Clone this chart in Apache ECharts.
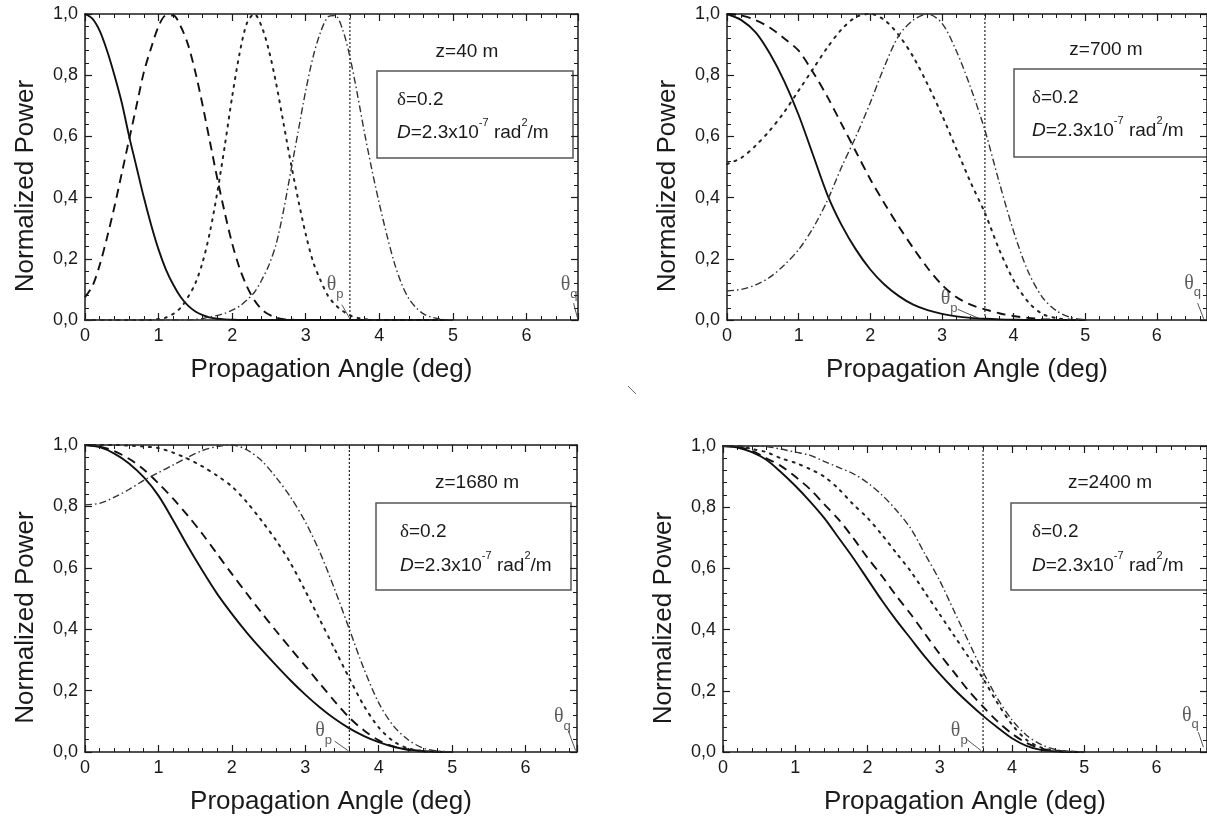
<!DOCTYPE html>
<html><head><meta charset="utf-8">
<script src="https://cdn.jsdelivr.net/npm/echarts@6/dist/echarts.min.js"></script>
<style>html,body{margin:0;padding:0;background:#fff}#c{width:1207px;height:820px}</style>
</head><body><div id="c"></div><script>
// ---------- DATA ----------
const panelTitles = ['z=40 m', 'z=700 m', 'z=1680 m', 'z=2400 m'];
const xTicks = [0, 1, 2, 3, 4, 5, 6];
const yTicks = ['0,0', '0,2', '0,4', '0,6', '0,8', '1,0'];
const thetaP = 3.6;
const thetaQ = 6.7;

// Panel 1 (z=40 m), angle step 0.1 deg
const angles1 = [0,0.1,0.2,0.3,0.4,0.5,0.6,0.7,0.8,0.9,1.0,1.1,1.2,1.3,1.4,1.5,1.6,1.7,1.8,1.9,2.0,2.1,2.2,2.3,2.4,2.5,2.6,2.7,2.8,2.9,3.0,3.1,3.2,3.3,3.4,3.5,3.6,3.7,3.8,3.9,4.0,4.1,4.2,4.3,4.4,4.5,4.6,4.7,4.8,4.9,5.0];
const solid40 = [1.00,0.985,0.945,0.88,0.80,0.71,0.60,0.50,0.40,0.31,0.23,0.165,0.115,0.075,0.047,0.028,0.016,0.008,0.004,0.002,0.001,0,0,0,0,0,0,0,0,0,0,0,0,0,0,0,0,0,0,0,0,0,0,0,0,0,0,0,0,0,0];
const dashed40 = [0.075,0.11,0.18,0.27,0.37,0.48,0.59,0.70,0.81,0.89,0.96,0.995,0.995,0.96,0.90,0.81,0.70,0.58,0.46,0.35,0.25,0.17,0.11,0.065,0.035,0.018,0.008,0.003,0.001,0,0,0,0,0,0,0,0,0,0,0,0,0,0,0,0,0,0,0,0,0,0];
const dotted40 = [0,0,0,0,0,0,0,0,0,0,0.003,0.008,0.02,0.04,0.075,0.12,0.19,0.29,0.42,0.57,0.73,0.87,0.97,1.00,0.96,0.88,0.77,0.64,0.51,0.39,0.28,0.19,0.13,0.08,0.05,0.03,0.015,0.007,0.003,0,0,0,0,0,0,0,0,0,0,0,0];
const dashdot40 = [0,0,0,0,0,0,0,0,0,0,0,0,0,0,0,0.002,0.005,0.01,0.015,0.022,0.032,0.045,0.065,0.09,0.13,0.18,0.25,0.36,0.49,0.62,0.75,0.86,0.94,0.99,0.995,0.95,0.86,0.74,0.61,0.49,0.38,0.28,0.19,0.12,0.07,0.04,0.02,0.01,0.004,0.001,0];

// Panels 2-4, angle step 0.2 deg
const angles = [0,0.2,0.4,0.6,0.8,1.0,1.2,1.4,1.6,1.8,2.0,2.2,2.4,2.6,2.8,3.0,3.2,3.4,3.6,3.8,4.0,4.2,4.4,4.6,4.8,5.0];
const solid700 = [1.0,0.98,0.94,0.87,0.78,0.67,0.54,0.41,0.31,0.23,0.165,0.115,0.078,0.05,0.032,0.02,0.012,0.007,0.004,0.002,0.001,0,0,0,0,0];
const dashed700 = [1.0,0.995,0.98,0.955,0.92,0.88,0.81,0.73,0.64,0.55,0.46,0.38,0.305,0.235,0.17,0.115,0.075,0.05,0.035,0.022,0.013,0.007,0.003,0.001,0,0];
const dotted700 = [0.51,0.53,0.57,0.62,0.68,0.75,0.82,0.89,0.95,0.99,1.0,0.98,0.93,0.86,0.77,0.67,0.56,0.45,0.35,0.23,0.13,0.06,0.02,0.006,0.001,0];
const dashdot700 = [0.095,0.10,0.115,0.14,0.18,0.23,0.30,0.39,0.50,0.60,0.71,0.83,0.93,0.98,1.0,0.97,0.88,0.76,0.62,0.45,0.29,0.16,0.075,0.03,0.008,0.001];

const solid1680 = [1.0,0.993,0.972,0.94,0.895,0.835,0.755,0.67,0.59,0.515,0.45,0.39,0.335,0.283,0.233,0.187,0.145,0.108,0.077,0.052,0.032,0.017,0.008,0.003,0.001,0];
const dashed1680 = [1.0,0.995,0.98,0.955,0.92,0.875,0.825,0.77,0.71,0.645,0.58,0.517,0.455,0.395,0.337,0.28,0.222,0.165,0.112,0.07,0.038,0.018,0.007,0.002,0.001,0];
const dotted1680 = [1.0,1.0,1.0,0.998,0.995,0.99,0.975,0.955,0.93,0.90,0.865,0.815,0.755,0.69,0.615,0.525,0.43,0.335,0.24,0.15,0.08,0.035,0.012,0.003,0.001,0];
const dashdot1680 = [0.805,0.81,0.83,0.855,0.885,0.91,0.935,0.96,0.982,0.995,1.0,0.985,0.95,0.895,0.83,0.75,0.65,0.53,0.40,0.27,0.16,0.085,0.04,0.013,0.003,0];

const solid2400 = [1.0,0.995,0.98,0.955,0.915,0.87,0.82,0.765,0.70,0.635,0.565,0.495,0.43,0.37,0.31,0.255,0.205,0.16,0.118,0.08,0.045,0.02,0.007,0.002,0,0];
const dashed2400 = [1.0,0.997,0.985,0.96,0.935,0.90,0.86,0.81,0.76,0.70,0.635,0.575,0.51,0.45,0.385,0.32,0.26,0.20,0.148,0.10,0.06,0.03,0.012,0.004,0.001,0];
const dotted2400 = [1.0,1.0,0.99,0.98,0.96,0.945,0.925,0.90,0.86,0.81,0.765,0.71,0.65,0.59,0.52,0.45,0.38,0.31,0.24,0.16,0.09,0.04,0.015,0.004,0.001,0];
const dashdot2400 = [1.0,1.0,1.0,0.998,0.99,0.98,0.97,0.95,0.93,0.91,0.88,0.84,0.79,0.73,0.645,0.56,0.46,0.36,0.262,0.175,0.105,0.055,0.025,0.008,0.002,0];

// ---------- CHART ----------
const FONT = 'Liberation Sans, Arial, sans-serif';
const INK = '#1a1a1a';
const panels = [
  {grid:{left:85, top:14, width:493, height:306}, x:angles1, curves:[solid40, dashed40, dotted40, dashdot40],
   thp:[3.40,0.105], thpLead:[[3.49,0.05],[3.6,0.004]], thq:[6.58,0.105], thqLead:[[6.64,0.055],[6.7,0]],
   note:{tx:467, ty:52, bx:377, by:71, bw:196, bh:87, lx:397, l1:100, l2:130}},
  {grid:{left:727, top:14, width:482, height:306}, x:angles, curves:[solid700, dashed700, dotted700, dashdot700],
   thp:[3.10,0.06], thpLead:[[3.22,0.035],[3.57,0]], thq:[6.5,0.11], thqLead:[[6.57,0.055],[6.66,0]],
   note:{tx:1106, ty:50, bx:1014, by:69, bw:210, bh:88, lx:1032, l1:98, l2:128}},
  {grid:{left:85, top:445, width:492, height:307}, x:angles, curves:[solid1680, dashed1680, dotted1680, dashdot1680],
   thp:[3.25,0.06], thpLead:[[3.4,0.035],[3.58,0.005]], thq:[6.5,0.105], thqLead:[[6.58,0.07],[6.68,0.005]],
   note:{tx:477, ty:483, bx:376, by:503, bw:195, bh:87, lx:400, l1:532, l2:563}},
  {grid:{left:723, top:446, width:486, height:306}, x:angles, curves:[solid2400, dashed2400, dotted2400, dashdot2400],
   thp:[3.27,0.06], thpLead:[[3.36,0.044],[3.57,0.005]], thq:[6.47,0.11], thqLead:[[6.58,0.065],[6.65,0.016]],
   note:{tx:1110, ty:483, bx:1011, by:503, bw:210, bh:87, lx:1032, l1:532, l2:563}}
];
const curveStyles = [
  {type:'solid', width:1.9, color:'#111'},
  {type:[9,6], width:1.9, color:'#111'},
  {type:[2,6], width:2, color:'#222', cap:'round'},
  {type:[7,3,1.5,3], width:1.4, color:'#333'}
];

const grid = [], xAxis = [], yAxis = [], series = [], graphic = [];
const axisLineStyle = {color:INK, width:1.5};
const tickCommon = {inside:true, length:7, lineStyle:{color:INK, width:1.2}};
const minorCommon = {show:true, splitNumber:5, length:4, lineStyle:{color:INK, width:1}};
const thetaRich = {
  t:{fontFamily:'Liberation Serif, serif', fontSize:20, color:'#333', lineHeight:26, verticalAlign:'top'},
  s:{fontFamily:FONT, fontSize:13, color:'#333', lineHeight:26, verticalAlign:'bottom'}
};

panels.forEach((p, i) => {
  grid.push(Object.assign({show:false}, p.grid));
  xAxis.push({gridIndex:i, type:'value', min:0, max:6.7, interval:1, position:'bottom',
    axisLine:{show:true, onZero:false, lineStyle:axisLineStyle}, axisTick:tickCommon, minorTick:minorCommon,
    splitLine:{show:false}, minorSplitLine:{show:false},
    axisLabel:{fontSize:18, color:INK, fontFamily:FONT, margin:7, showMaxLabel:false,
      formatter: v => xTicks.includes(v) ? String(v) : ''},
    name:'Propagation Angle (deg)', nameLocation:'middle', nameGap:37,
    nameTextStyle:{fontSize:26, color:INK, fontFamily:FONT}});
  xAxis.push({gridIndex:i, type:'value', min:0, max:6.7, interval:1, position:'top',
    axisLine:{show:true, onZero:false, lineStyle:axisLineStyle}, axisTick:tickCommon, minorTick:minorCommon,
    splitLine:{show:false}, axisLabel:{show:false}});
  yAxis.push({gridIndex:i, type:'value', min:0, max:1, interval:0.2, position:'left',
    axisLine:{show:true, onZero:false, lineStyle:axisLineStyle}, axisTick:tickCommon, minorTick:minorCommon,
    splitLine:{show:false}, minorSplitLine:{show:false},
    axisLabel:{fontSize:18, color:INK, fontFamily:FONT, margin:7,
      formatter: v => yTicks[Math.round(v / 0.2)]},
    name:'Normalized Power', nameLocation:'middle', nameGap:46,
    nameTextStyle:{fontSize:26, color:INK, fontFamily:FONT, padding:[0,38,0,0]}});
  yAxis.push({gridIndex:i, type:'value', min:0, max:1, interval:0.2, position:'right',
    axisLine:{show:true, onZero:false, lineStyle:axisLineStyle}, axisTick:tickCommon, minorTick:minorCommon,
    splitLine:{show:false}, axisLabel:{show:false}});
  const xi = 2 * i, yi = 2 * i;
  p.curves.forEach((vals, k) => {
    series.push({type:'line', xAxisIndex:xi, yAxisIndex:yi, symbol:'none', smooth:0.3,
      lineStyle:curveStyles[k], data:p.x.map((x, j) => [x, vals[j]]), silent:true, z:3});
  });
  // vertical dotted line at theta_p
  series.push({type:'line', xAxisIndex:xi, yAxisIndex:yi, symbol:'none',
    lineStyle:{type:[2,2], width:1.2, color:'#222'}, data:[[thetaP,0],[thetaP,1]], silent:true, z:2});
  // leader lines
  [p.thpLead, p.thqLead].forEach(seg => {
    series.push({type:'line', xAxisIndex:xi, yAxisIndex:yi, symbol:'none',
      lineStyle:{width:0.9, color:'#444'}, data:seg, silent:true, z:2});
  });
  // theta labels
  series.push({type:'scatter', xAxisIndex:xi, yAxisIndex:yi, symbolSize:0, silent:true,
    data:[{value:p.thp, sub:'p'}, {value:p.thq, sub:'q'}],
    label:{show:true, position:'inside', formatter: d => '{t|θ}{s|' + d.data.sub + '}', rich:thetaRich}});
  // annotation text and box
  const n = p.note;
  graphic.push({type:'text', x:n.tx, y:n.ty, style:{text:panelTitles[i], fontSize:19, fontFamily:FONT, fill:INK, align:'center', verticalAlign:'middle'}});
  graphic.push({type:'rect', shape:{x:n.bx, y:n.by, width:n.bw, height:n.bh}, style:{fill:'none', stroke:'#555', lineWidth:1.5}});
  graphic.push({type:'text', x:n.lx, y:n.l1, style:{text:'{g|δ}{n|=0.2}', verticalAlign:'middle',
    rich:{g:{fontFamily:'Liberation Serif, serif', fontSize:19, fill:INK}, n:{fontFamily:FONT, fontSize:19, fill:INK}}}});
  graphic.push({type:'text', x:n.lx, y:n.l2, style:{text:'{i|D}{n|=2.3x10}{s|-7}{n| rad}{s|2}{n|/m}', verticalAlign:'middle',
    rich:{i:{fontFamily:FONT, fontStyle:'italic', fontSize:19, fill:INK, lineHeight:25, verticalAlign:'bottom'},
          n:{fontFamily:FONT, fontSize:19, fill:INK, lineHeight:25, verticalAlign:'bottom'},
          s:{fontFamily:FONT, fontSize:11, fill:INK, lineHeight:25, verticalAlign:'top'}}}});
});
// stray mark between panels
graphic.push({type:'line', shape:{x1:628, y1:386, x2:636, y2:394}, style:{stroke:'#666', lineWidth:1}});

const chart = echarts.init(document.getElementById('c'));
chart.setOption({animation:false, backgroundColor:'#fff', grid, xAxis, yAxis, series, graphic});
</script></body></html>
